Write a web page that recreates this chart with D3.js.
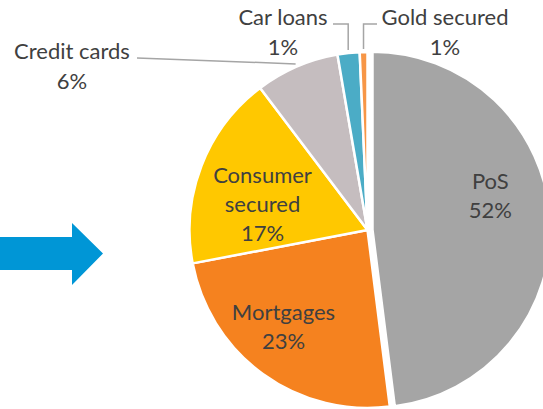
<!DOCTYPE html>
<html>
<head>
<meta charset="utf-8">
<script src="https://cdn.jsdelivr.net/npm/d3@7"></script>
<style>
  html, body { margin: 0; padding: 0; background: #fff; }
  svg { display: block; }
  text { font-family: Lato, "Open Sans", sans-serif; fill: #404040; }
</style>
</head>
<body>
<svg id="chart" width="543" height="409"></svg>
<script>
// loan book split (slice sizes, labels as printed)
const categories = ['PoS', 'Mortgages', 'Consumer secured', 'Credit cards', 'Car loans', 'Gold secured'];
const values = [48.0, 24.0, 17.7, 7.6, 2.0, 0.7];
const shareLabels = ['52%', '23%', '17%', '6%', '1%', '1%'];
const nameLines = [['PoS'], ['Mortgages'], ['Consumer', 'secured'], ['Credit cards'], ['Car loans'], ['Gold secured']];

const colors = ['#a5a5a5', '#f5821f', '#ffc800', '#c5bdbf', '#4bacc6', '#f79646'];

const width = 543;
const height = 409;
const cx = 367.5;
const cy = 230;
const radius = 178;
const lineH = 29;
const fontSize = 22;

const svg = d3.select('#chart');

// blue arrow on the left
const arrow = d3.path();
arrow.moveTo(0, 237);
arrow.lineTo(72, 237);
arrow.lineTo(72, 223);
arrow.lineTo(103, 253.5);
arrow.lineTo(72, 285);
arrow.lineTo(72, 270);
arrow.lineTo(0, 270);
arrow.closePath();
svg.append('path')
  .attr('d', arrow.toString())
  .attr('fill', '#0096d6');

const pie = d3.pie()
  .value(d => d)
  .sort(null);

const arcs = pie(values);

const arc = d3.arc()
  .innerRadius(0)
  .outerRadius(radius);

// PoS slice is pulled out a little
const explode = [5, 0, 0, 0, 0, 0];

const offset = (d, i) => {
  const a = (d.startAngle + d.endAngle) / 2;
  return [explode[i] * Math.sin(a), -explode[i] * Math.cos(a)];
};

const g = svg.append('g')
  .attr('transform', `translate(${cx},${cy})`);

g.selectAll('path.slice')
  .data(arcs)
  .join('path')
  .attr('class', 'slice')
  .attr('d', arc)
  .attr('fill', (d, i) => colors[i])
  .attr('stroke', '#fff')
  .attr('stroke-width', 2.5)
  .attr('stroke-linejoin', 'round')
  .attr('transform', (d, i) => `translate(${offset(d, i)})`);

// labels inside the big slices
const labelArc = d3.arc().innerRadius(120).outerRadius(120);
const insideNudge = [[-2, -26], [-13.5, 0], [7, 18]];

const inside = arcs.slice(0, 3);
inside.forEach((d, i) => {
  const c = labelArc.centroid(d);
  const o = offset(d, i);
  const x = c[0] + o[0] + insideNudge[i][0];
  const lines = nameLines[i].concat([shareLabels[i]]);
  const yMid = c[1] + o[1] + insideNudge[i][1];
  const y0 = yMid + 7 - (lines.length - 1) * lineH / 2;
  const t = g.append('text')
    .attr('text-anchor', 'middle')
    .attr('font-size', fontSize);
  lines.forEach((s, k) => {
    t.append('tspan')
      .attr('x', x)
      .attr('y', y0 + k * lineH)
      .text(s);
  });
});

// outside labels with leader lines
const edgeArc = d3.arc().innerRadius(radius + 3).outerRadius(radius + 3);
const outsideText = [[-295.5, -171], [-84.5, -205], [77.5, -205]];
const leaderStart = [65, 50, -68];
const leaderColor = '#a5a5a5';

arcs.slice(3).forEach((d, j) => {
  const i = j + 3;
  const p = edgeArc.centroid(d);
  const [tx, ty] = outsideText[j];
  const sx = tx + leaderStart[j];
  let pts;
  if (j === 0) {
    pts = [[sx, ty - 1], p];
  } else {
    pts = [[sx, ty - 1], [p[0], ty - 1], p];
  }
  g.append('path')
    .attr('d', d3.line()(pts))
    .attr('fill', 'none')
    .attr('stroke', leaderColor)
    .attr('stroke-width', 1.5);

  const t = g.append('text')
    .attr('text-anchor', 'middle')
    .attr('font-size', fontSize);
  [nameLines[i][0], shareLabels[i]].forEach((s, k) => {
    t.append('tspan')
      .attr('x', tx)
      .attr('y', ty + k * (lineH + 1))
      .text(s);
  });
});
</script>
</body>
</html>
